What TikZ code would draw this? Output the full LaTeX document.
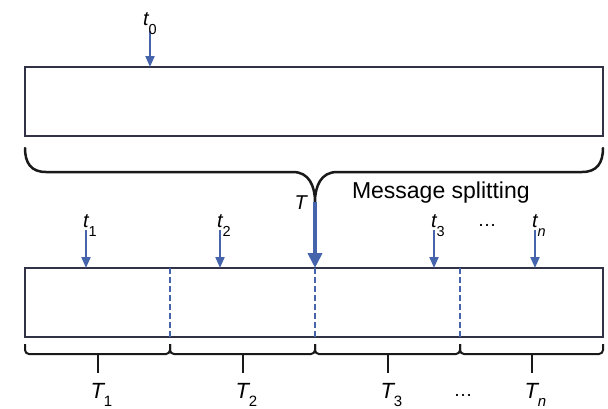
\documentclass[tikz,border=0pt]{standalone}
\usepackage{fontspec}
\setmainfont{Liberation Sans}
\usetikzlibrary{arrows.meta}
\definecolor{arrblue}{RGB}{70,100,172}
\definecolor{boxcol}{RGB}{50,50,70}
\definecolor{bracecol}{RGB}{25,25,25}
\newcommand{\tlab}[1]{{\fontsize{20}{20}\selectfont\itshape t}\raisebox{-9pt}{\fontsize{14.5}{14.5}\selectfont #1}}
\newcommand{\Tlab}[1]{{\fontsize{22}{22}\selectfont\itshape T}\raisebox{-8pt}{\fontsize{15}{15}\selectfont #1}}
\begin{document}
\begin{tikzpicture}[x=1pt,y=-1pt,
  msgbox/.style={draw=boxcol, line width=2.2pt, inner sep=0pt, outer sep=0pt, minimum width=578pt, minimum height=69pt, anchor=north west},
  smallarr/.style={draw=arrblue, line width=2pt, -{Triangle[width=9pt,length=11pt]}, arrblue},
  bigarr/.style={draw=arrblue, line width=4.5pt, -{Triangle[width=14pt,length=15pt]}, arrblue},
  divider/.style={draw=arrblue, line width=1.6pt, dash pattern=on 6pt off 3pt},
  topbrace/.style={draw=bracecol, line width=2.5pt, line cap=round},
  segbrace/.style={draw=bracecol, line width=2pt, rounded corners=4pt},
  lab/.style={inner sep=0pt, outer sep=0pt}]
\useasboundingbox (0,0) rectangle (608,408);
% boxes
\node[msgbox] (top) at (25,67) {};
\node[msgbox] (bot) at (25,268) {};
% t0 arrow
\coordinate (a0) at (150,31);
\draw[smallarr] (a0) -- (a0 |- top.north);
\node[lab, anchor=base west] (l0) at (143,25) {\tlab{0}};
% top brace
\coordinate (bl) at (25,148);
\coordinate (br) at (603,148);
\coordinate (bt) at (315,202);
\draw[topbrace] (bl) .. controls (25,163) and (31,172) .. (46,172) -- (293,172)
  .. controls (309,172) and (315,186) .. (bt)
  .. controls (315,186) and (321,172) .. (337,172) -- (582,172)
  .. controls (597,172) and (603,163) .. (br);
\node[lab, anchor=base west] (Tt) at (294.5,209) {\fontsize{20}{20}\selectfont\itshape T};
\node[lab, anchor=base west] (ms) at (352,198) {\fontsize{23}{23}\selectfont Message splitting};
% big arrow
\draw[bigarr] (bt) -- (bt |- bot.north);
% dividers
\foreach \x [count=\i] in {170,315,460} {
  \coordinate (d\i) at (\x,268);
  \draw[divider] (d\i) -- (d\i |- bot.south);
}
% small arrows
\foreach \x/\s [count=\i] in {86/1, 220/2, 434/3, 535/{\itshape n}} {
  \coordinate (a\i) at (\x,230);
  \draw[smallarr] (a\i) -- (a\i |- bot.north);
  \node[lab, anchor=base west] (l\i) at (\x-3,227) {\tlab{\s}};
}
\node[lab, anchor=base] (dots1) at (487,226) {\fontsize{19}{19}\selectfont …};
% segment braces
\foreach \a/\b/\s [count=\i] in {25/170/1, 170/315/2, 315/460/3, 460/603/{\itshape n}} {
  \draw[segbrace] (\a,344) -- (\a,354) -- (\b,354) -- (\b,344);
  \coordinate (m\i) at ({(\a+\b)/2},354);
  \coordinate (s\i) at ({(\a+\b)/2},373);
  \draw[segbrace] (m\i) -- (s\i);
  \node[lab, anchor=base west] (T\i) at ({(\a+\b)/2-7},398) {\Tlab{\s}};
}
\node[lab, anchor=base] (dots2) at (463,396) {\fontsize{19}{19}\selectfont …};
\end{tikzpicture}
\end{document}
